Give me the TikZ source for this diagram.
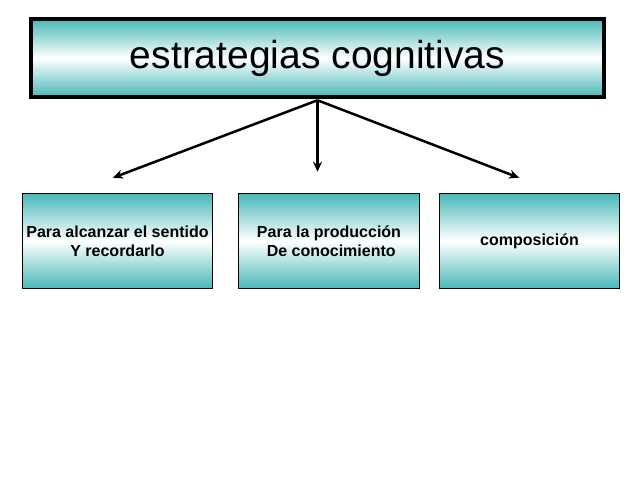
\documentclass[tikz,border=0pt]{standalone}
\usepackage{fontspec}
\setmainfont{Liberation Sans}
\usetikzlibrary{arrows.meta, positioning, calc}

\definecolor{tealfill}{RGB}{72,184,184}

\begin{document}
\begin{tikzpicture}[
    x=1pt, y=1pt,
    >=Stealth,
    header/.style={rectangle, draw=black, line width=4.5pt, minimum width=573pt, minimum height=78pt,
        top color=tealfill, bottom color=tealfill, middle color=white,
        inner sep=0pt, font=\fontsize{39}{44}\selectfont},
    block/.style={rectangle, draw=black, line width=1.5pt, minimum height=95pt,
        top color=tealfill, bottom color=tealfill, middle color=white,
        inner sep=0pt, align=center, font=\fontsize{16}{19}\selectfont\bfseries},
    branch/.style={-{Stealth[length=10pt, width=9pt]}, line width=2.5pt, black}
]
    \useasboundingbox (0,0) rectangle (638,479);

    % ========== Title ==========
    \node (title) [header] at (317.5, 421) {estrategias cognitivas};

    % ========== Strategy blocks ==========
    \node (sense) [block, minimum width=190pt] at (117.5, 238) {Para alcanzar el sentido\\Y recordarlo};
    \node (production) [block, minimum width=181pt] at (329, 238) {Para la producción\\\ De conocimiento};
    \node (composition) [block, minimum width=180pt] at (529.5, 238) {composición};

    % ========== Arrows ==========
    \coordinate (root) at ([yshift=-1pt]title.south);
    \coordinate (mid_end) at ([xshift=-11pt, yshift=21pt]production.north);
    \draw [branch] (root) -- ([xshift=-4.5pt, yshift=15pt]sense.north);
    \draw [branch] (root) -- (root |- mid_end);
    \draw [branch] (root) -- ([xshift=-10.5pt, yshift=15pt]composition.north);
\end{tikzpicture}
\end{document}
